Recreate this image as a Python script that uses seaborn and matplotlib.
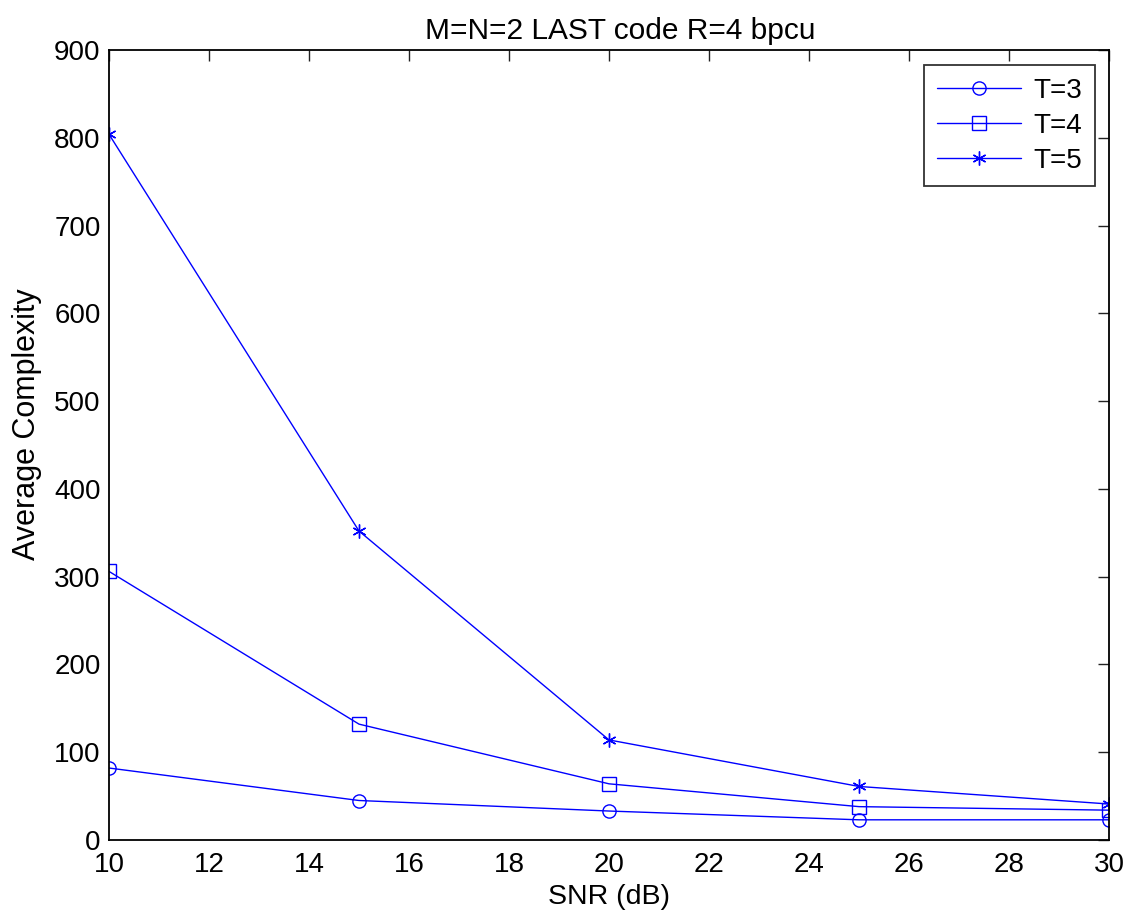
import matplotlib
matplotlib.use("Agg")
import matplotlib.pyplot as plt
import seaborn as sns
import pandas as pd

snr = [10, 15, 20, 25, 30]
t3 = [82, 45, 33, 23, 23]
t4 = [306, 132, 64, 38, 34]
t5 = [804, 352, 114, 61, 41]
labels = ["T=3", "T=4", "T=5"]
markers = ["o", "s", (6, 2, 0)]
xticks = list(range(10, 31, 2))
yticks = list(range(0, 901, 100))

sns.set_style("white")
plt.rcParams['font.family'] = ['Liberation Sans', 'DejaVu Sans']
plt.rcParams['text.color'] = 'black'
plt.rcParams['axes.labelcolor'] = 'black'
plt.rcParams['xtick.color'] = 'black'
plt.rcParams['ytick.color'] = 'black'

rows = []
for lab, vals in zip(labels, [t3, t4, t5]):
    for x, y in zip(snr, vals):
        rows.append({"SNR": x, "val": y, "T": lab})
df = pd.DataFrame(rows)

fig = plt.figure(figsize=(11.3, 9.14), dpi=100)
ax = fig.add_axes([109 / 1130, 74 / 914, 1000 / 1130, 790 / 914])

for lab, mk in zip(labels, markers):
    sub = df[df["T"] == lab]
    sns.lineplot(data=sub, x="SNR", y="val", ax=ax, color="#0000ff", linewidth=1.0,
                 marker=mk, markersize=9.5 if mk in ("o", "s") else 10,
                 markerfacecolor="none",
                 markeredgecolor="#0000ff", markeredgewidth=1.0, label=lab,
                 estimator=None, sort=False)

ax.set_xlim(10, 30)
ax.set_ylim(0, 900)
ax.set_xticks(xticks)
ax.set_yticks(yticks)
ax.tick_params(direction="in", length=8, width=1, labelsize=20, top=True, right=True,
               color="#222222")
ax.tick_params(axis="x", pad=9)
ax.tick_params(axis="y", pad=6)
for s in ax.spines.values():
    s.set_linewidth(1.3)
    s.set_color("black")
    s.set_visible(True)
ax.set_xlabel("SNR (dB)", fontsize=20.5, labelpad=4)
ax.set_ylabel("Average Complexity", fontsize=22)
ax.yaxis.set_label_coords(-0.067, 0.526)
ax.set_title("M=N=2 LAST code R=4 bpcu", fontsize=21.5, pad=8, x=0.511)
leg = ax.legend(loc="upper right", bbox_to_anchor=(0.986, 0.981), fontsize=20,
                frameon=True, fancybox=False, edgecolor="black", handlelength=3.05,
                handletextpad=0.45, borderaxespad=0, labelspacing=0.33,
                borderpad=0.45)
leg.get_frame().set_linewidth(1.3)
fig.savefig("out.png", dpi=100)
